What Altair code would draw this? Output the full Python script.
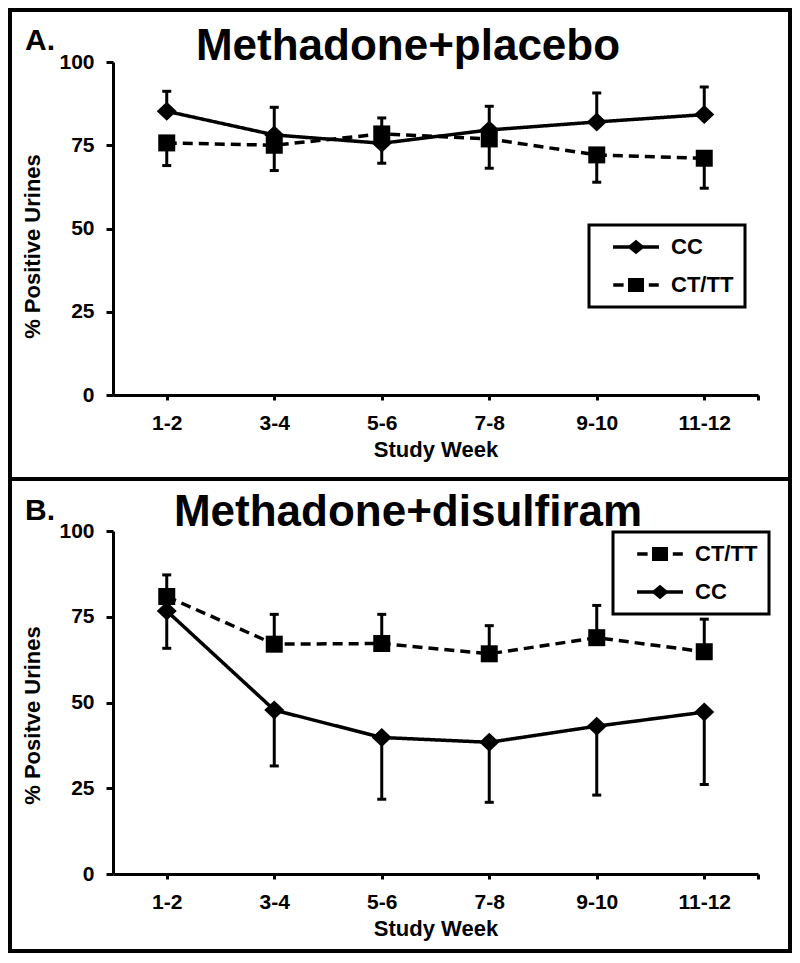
import altair as alt
import pandas as pd

# ---------------- data ----------------
weeks = ["1-2", "3-4", "5-6", "7-8", "9-10", "11-12"]
week_idx = [1, 2, 3, 4, 5, 6]
groups = ["CC", "CT/TT"]

# Panel A: Methadone+placebo
a_cc_mean = [85.2, 78.1, 75.6, 79.6, 82.0, 84.2]
a_cc_bound = [91.2, 86.4, 83.2, 86.7, 90.7, 92.5]     # upper SE bound
a_ct_mean = [75.7, 75.0, 78.4, 76.9, 72.1, 71.1]
a_ct_bound = [68.9, 67.4, 69.6, 68.1, 63.9, 62.1]     # lower SE bound

# Panel B: Methadone+disulfiram
b_cc_mean = [76.7, 47.8, 39.8, 38.4, 43.1, 47.2]
b_cc_bound = [65.8, 31.5, 21.8, 20.9, 23.0, 26.1]     # lower SE bound
b_ct_mean = [80.9, 67.0, 67.2, 64.2, 68.9, 64.8]
b_ct_bound = [87.2, 75.7, 75.7, 72.4, 78.3, 74.3]     # upper SE bound

title_a = "Methadone+placebo"
title_b = "Methadone+disulfiram"
letter_a = "A."
letter_b = "B."
ytitle_a = "% Positive Urines"
ytitle_b = "% Positve Urines"
xtitle = "Study Week"
y_ticks = [0, 25, 50, 75, 100]

# ---------------- styling ----------------
FONT = "Liberation Sans, Arial, Helvetica, sans-serif"
W = 645

DIAMOND = "M0,-0.95L1,0L0,0.95L-1,0Z"
SQUARE = "M-0.85,-0.85L0.85,-0.85L0.85,0.85L-0.85,0.85Z"
# legend glyphs: line (as thin filled bar) + marker, all filled
LEG_DIAMOND = ("M-2.875,-0.21L2.875,-0.21L2.875,0.21L-2.875,0.21Z "
               "M0,-0.9L1.1,0L0,0.9L-1.1,0Z")
LEG_SQUARE = ("M-2.85,-0.21L-1.55,-0.21L-1.55,0.21L-2.85,0.21Z "
              "M1.6,-0.21L2.85,-0.21L2.85,0.21L1.6,0.21Z "
              "M-1,-0.875L1,-0.875L1,0.875L-1,0.875Z")
shape_map = {"CC": DIAMOND, "CT/TT": SQUARE}
leg_shape_map = {"CC": LEG_DIAMOND, "CT/TT": LEG_SQUARE}
dash_map = {"CC": [1, 0], "CT/TT": [10, 6]}


def make_df(cc_mean, cc_bound, ct_mean, ct_bound):
    rows = []
    for i, w in enumerate(weeks):
        rows.append({"idx": week_idx[i], "week": w, "group": "CC",
                     "mean": cc_mean[i], "bound": cc_bound[i]})
        rows.append({"idx": week_idx[i], "week": w, "group": "CT/TT",
                     "mean": ct_mean[i], "bound": ct_bound[i]})
    return pd.DataFrame(rows)


label_array = "[" + ",".join("'" + w + "'" for w in weeks) + "]"


def panel(df, leg_order, letter, title, ytitle, H, leg_x, leg_y,
          title_base, letter_base, frame_y2):
    xscale = alt.Scale(domain=[0.5, 6.5], nice=False, zero=False)
    yscale = alt.Scale(domain=[0, 100], nice=False, zero=True)
    xaxis = alt.Axis(
        values=week_idx + [6.5],
        labelExpr="datum.value % 1 === 0 ? " + label_array + "[datum.value - 1] : ''",
        title=xtitle, grid=False,
        domainColor="black", domainWidth=3,
        tickColor="black", tickWidth=3, tickSize=5,
        labelFont=FONT, labelFontSize=21, labelFontWeight="bold", labelColor="black",
        labelPadding=12, labelOverlap=False,
        titleFont=FONT, titleFontSize=22, titleFontWeight="bold", titleColor="black",
        titlePadding=6,
    )
    yaxis = alt.Axis(
        values=y_ticks, title=ytitle, grid=False,
        domainColor="black", domainWidth=3,
        tickColor="black", tickWidth=3, tickSize=7,
        labelFont=FONT, labelFontSize=21, labelFontWeight="bold", labelColor="black",
        labelPadding=12,
        titleFont=FONT, titleFontSize=22, titleFontWeight="bold", titleColor="black",
        titlePadding=14, titleY=184,
    )
    X = alt.X("idx:Q", scale=xscale, axis=xaxis)

    base = alt.Chart(df)

    rules = base.mark_rule(color="black", strokeWidth=3).encode(
        x=X,
        y=alt.Y("mean:Q", scale=yscale, axis=yaxis),
        y2="bound:Q",
    )
    caps = base.mark_tick(color="black", orient="horizontal", size=9,
                          thickness=3, opacity=1).encode(
        x=X,
        y=alt.Y("bound:Q", scale=yscale, axis=yaxis),
    )
    lines = base.mark_line(color="black", strokeWidth=3.5).encode(
        x=X,
        y=alt.Y("mean:Q", scale=yscale, axis=yaxis),
        strokeDash=alt.StrokeDash(
            "group:N",
            scale=alt.Scale(domain=groups, range=[dash_map[g] for g in groups]),
            legend=None),
        order="idx:Q",
    )
    points = base.mark_point(filled=True, color="black", opacity=1, size=400).encode(
        x=X,
        y=alt.Y("mean:Q", scale=yscale, axis=yaxis),
        shape=alt.Shape(
            "group:N",
            scale=alt.Scale(domain=groups, range=[shape_map[g] for g in groups]),
            legend=None),
    )

    leg = alt.Legend(
        title=None, orient="none", legendX=leg_x, legendY=leg_y,
        strokeColor="black", padding=11,
        rowPadding=16, symbolOffset=25, labelOffset=24,
        symbolSize=256, symbolStrokeWidth=0,
        symbolFillColor="black", symbolOpacity=1,
        labelFont=FONT, labelFontSize=22, labelFontWeight="bold", labelColor="black",
    )
    legend_layer = base.transform_filter("false").mark_point(
        filled=True, color="black", size=256, opacity=1
    ).encode(
        x=X,
        y=alt.Y("mean:Q", scale=yscale, axis=yaxis),
        shape=alt.Shape("group:N",
                        scale=alt.Scale(domain=leg_order,
                                        range=[leg_shape_map[g] for g in leg_order]),
                        legend=leg),
    )

    frame = alt.Chart(pd.DataFrame({"k": [0]})).mark_rect(
        fillOpacity=0, stroke="black", strokeWidth=4
    ).encode(
        x=alt.value(-103), x2=alt.value(677),
        y=alt.value(-52), y2=alt.value(frame_y2),
    )
    title_txt = alt.Chart(pd.DataFrame({"t": [title]})).mark_text(
        font=FONT, fontSize=44, fontWeight="bold", color="black",
        align="center", baseline="alphabetic"
    ).encode(x=alt.value(295), y=alt.value(title_base), text="t:N")
    letter_txt = alt.Chart(pd.DataFrame({"t": [letter]})).mark_text(
        font=FONT, fontSize=30, fontWeight="bold", color="black",
        align="left", baseline="alphabetic"
    ).encode(x=alt.value(-88), y=alt.value(letter_base), text="t:N")

    return alt.layer(
        frame, rules, caps, lines, points, legend_layer, title_txt, letter_txt
    ).resolve_scale(
        shape="independent", strokeDash="independent"
    ).properties(width=W, height=H)


df_a = make_df(a_cc_mean, a_cc_bound, a_ct_mean, a_ct_bound)
df_b = make_df(b_cc_mean, b_cc_bound, b_ct_mean, b_ct_bound)

pa = panel(df_a, ["CC", "CT/TT"], letter_a, title_a, ytitle_a, 333,
           476, 163, -2, -12, 417)
pb = panel(df_b, ["CT/TT", "CC"], letter_b, title_b, ytitle_b, 343,
           500, 1, -5, -11, 420)

chart = alt.vconcat(pa, pb, spacing=-4).properties(
    padding=0
).configure_view(strokeWidth=0).configure_legend(strokeWidth=3)

chart.save("out.html", embed_options={"renderer": "svg", "actions": False})
